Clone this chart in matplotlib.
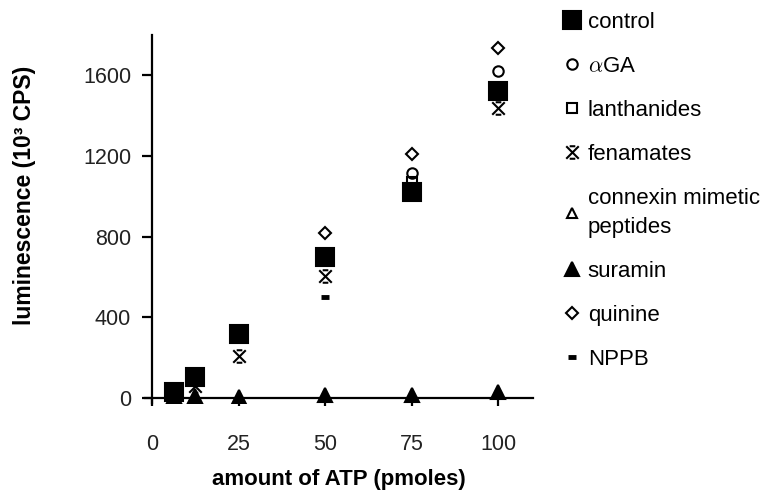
import matplotlib
matplotlib.use("Agg")
import matplotlib.pyplot as plt
from matplotlib.path import Path

plt.rcParams.update({
    "font.family": ["Liberation Sans", "DejaVu Sans"],
    "font.size": 16,
    "axes.linewidth": 1.6,
    "mathtext.fontset": "cm",
})

# ---- data (x: pmoles ATP, y: 10^3 CPS) ----
atp = [6.25, 12.5, 25, 50, 75, 100]
control = [30, 105, 318, 700, 1020, 1520]
aga = [30, 105, 310, 700, 1115, 1620]
lanthanides = [30, 100, 310, 690, 1070, 1505]
fenamates = [20, 60, 210, 605, 1030, 1440]
connexin = [30, 100, 320, 700, 1020, 1520]
suramin = [10, 10, 5, 15, 15, 28]
quinine = [30, 110, 320, 820, 1210, 1735]
nppb = [30, 100, 310, 500, 1020, 1510]

xticks = [0, 25, 50, 75, 100]
yticks = [0, 400, 800, 1200, 1600]

# X with short bars top and bottom (the "fenamates" star)
star = Path([(-1, -1), (1, 1), (-1, 1), (1, -1),
             (-0.45, 1), (0.45, 1), (-0.45, -1), (0.45, -1)],
            [Path.MOVETO, Path.LINETO, Path.MOVETO, Path.LINETO,
             Path.MOVETO, Path.LINETO, Path.MOVETO, Path.LINETO])

fig = plt.figure(figsize=(7.65, 4.93), dpi=100)
ax = fig.add_axes([145 / 765, 1 - 403 / 493, (533 - 145) / 765, (403 - 35) / 493])

kw = dict(ls="none", color="black", mew=1.5)
h_ctrl, = ax.plot(atp, control, marker="s", ms=13, mfc="black", label="control", zorder=3, **kw)
h_aga, = ax.plot(atp, aga, marker="o", ms=7.5, mfc="none", label=r"$\alpha$GA", zorder=4, **kw)
h_lan, = ax.plot(atp, lanthanides, marker="s", ms=6.5, mfc="none", label="lanthanides", zorder=4, **kw)
h_fen, = ax.plot(atp, fenamates, marker=star, ms=9, mfc="none", label="fenamates", zorder=4, **kw)
h_cx, = ax.plot(atp, connexin, marker="^", ms=7, mfc="none", label="connexin mimetic\npeptides", zorder=2, **kw)
h_sur, = ax.plot(atp, suramin, marker="^", ms=9.5, mfc="black", label="suramin", zorder=4, **kw)
h_qui, = ax.plot(atp, quinine, marker="D", ms=6.5, mfc="none", label="quinine", zorder=4, **kw)
h_npp, = ax.plot(atp, nppb, marker="_", ms=6, label="NPPB", zorder=4,
                 ls="none", color="black", mew=3.5)

ax.set_xlim(-2, 110)
ax.set_ylim(-25, 1800)
ax.spines["top"].set_visible(False)
ax.spines["right"].set_visible(False)
ax.spines["left"].set_position(("data", 0))
ax.spines["bottom"].set_position(("data", 0))
ax.set_xticks(xticks)
ax.set_yticks(yticks)
ax.tick_params(axis="x", length=6, width=1.6, pad=20, labelsize=15.5)
ax.tick_params(axis="y", length=7, width=1.6, pad=8, labelsize=15.5)
for lab in ax.get_xticklabels() + ax.get_yticklabels():
    lab.set_color("#222222")

fig.text(339 / 765, 1 - 480 / 493, "amount of ATP (pmoles)", ha="center", va="center",
         fontweight="bold", fontsize=16)
fig.text(25 / 765, 1 - 195 / 493, "luminescence (10³ CPS)", ha="center", va="center",
         rotation=90, fontweight="bold", fontsize=16.5)

leg = fig.legend(handles=[h_ctrl, h_aga, h_lan, h_fen, h_cx, h_sur, h_qui, h_npp],
                 loc="upper left", bbox_to_anchor=(561 / 765, 1 - 12 / 493),
                 frameon=False, fontsize=16, handlelength=1.0, handletextpad=0.2,
                 labelspacing=1.03, borderpad=0, borderaxespad=0)
for t in leg.get_texts():
    t.set_linespacing(1.55)

fig.savefig("out.png", dpi=100)
